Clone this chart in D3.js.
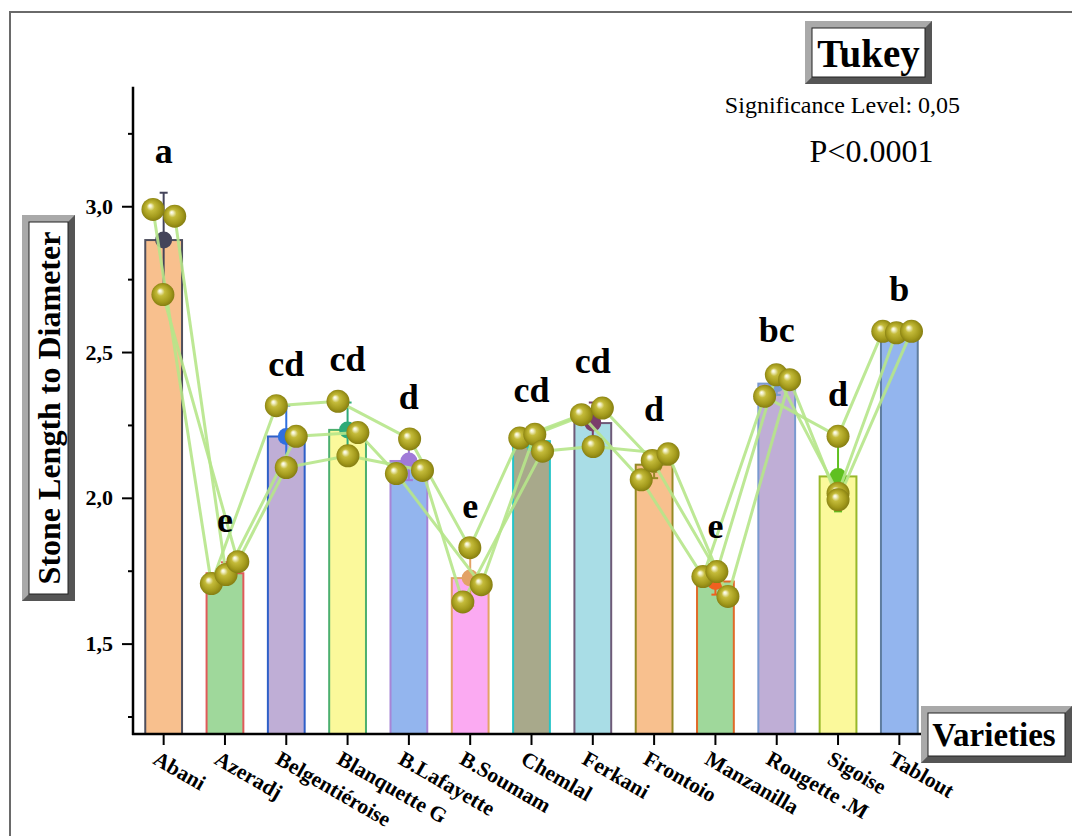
<!DOCTYPE html>
<html>
<head>
<meta charset="utf-8">
<script src="https://cdn.jsdelivr.net/npm/d3@7"></script>
<style>
  html, body { margin: 0; padding: 0; background: #fff; }
  svg { display: block; }
</style>
</head>
<body>
<svg id="chart" width="1072" height="836"></svg>
<script>
// Olive varieties and their three replicate stone length/diameter ratios
const varieties = ["Abani", "Azeradj", "Belgentiéroise", "Blanquette G", "B.Lafayette",
  "B.Soumam", "Chemlal", "Ferkani", "Frontoio", "Manzanilla", "Rougette .M", "Sigoise", "Tablout"];

const replicates = [
  [2.989, 2.966, 2.697],
  [1.706, 1.737, 1.781],
  [2.316, 2.211, 2.104],
  [2.331, 2.224, 2.144],
  [2.202, 2.083, 2.094],
  [1.829, 1.702, 1.643],
  [2.205, 2.218, 2.160],
  [2.285, 2.308, 2.176],
  [2.062, 2.128, 2.151],
  [1.730, 1.747, 1.662],
  [2.348, 2.422, 2.405],
  [2.211, 2.016, 1.993],
  [2.571, 2.566, 2.571]
];

// Tukey grouping letters (alpha = 0.05)
const groups = ["a", "e", "cd", "cd", "d", "e", "cd", "cd", "d", "e", "bc", "d", "b"];

const yMajorTicks = [1.5, 2.0, 2.5, 3.0];
const yMinorTicks = [1.25, 1.75, 2.25, 2.75, 3.25];

// horizontal spread of the replicate dots, as a fraction of bar width
const jitter = [
  [-0.29, 0.30, -0.02], [-0.37, 0.03, 0.35], [-0.27, 0.27, 0.00], [-0.26, 0.28, 0.01],
  [0.02, -0.34, 0.37], [-0.01, 0.30, -0.20], [-0.32, 0.09, 0.30], [-0.31, 0.26, 0.01],
  [-0.35, -0.05, 0.38], [-0.34, 0.04, 0.34], [-0.33, -0.01, 0.35], [0, 0, 0], [-0.45, -0.08, 0.33]
];

const fillColors = ["#f8c08e", "#9fd89b", "#bfaed6", "#fbf99b", "#93b5ee", "#fbaaf2", "#a8a98b",
  "#a9dde6", "#f8c08e", "#9fd89b", "#bfaed6", "#fbf99b", "#93b5ee"];
const edgeColors = ["#4e4e5c", "#e05a5a", "#2e5fc8", "#4caf6e", "#a785d6", "#e3a266", "#25c4c8",
  "#6e5a78", "#958a25", "#e06a28", "#7a9ad0", "#98b82a", "#5f7d9e"];
const meanColors = ["#44445a", "#e05a5a", "#2f6fe0", "#2faa78", "#a07ad8", "#e3a266", "#25c4c8",
  "#7a3f6a", "#958a25", "#f06020", "#7a9ad0", "#5fc020", "#5f7d9e"];

const serif = "'Liberation Serif', 'Times New Roman', serif";

const svg = d3.select("#chart");

const x = d3.scaleBand().domain(varieties).range([133, 930]).paddingInner(0.4).paddingOuter(0.2);
const y = d3.scaleLinear().domain([1.19, 3.41]).range([734, 86.7]);

const stats = replicates.map((vals, i) => ({
  name: varieties[i],
  mean: d3.mean(vals),
  sd: d3.deviation(vals),
  max: d3.max(vals),
  i
}));

// outer frame
svg.append("rect").attr("x", 10).attr("y", 12).attr("width", 1072).attr("height", 840)
  .attr("fill", "none").attr("stroke", "#6a6a6a").attr("stroke-width", 2);

// sphere gradient for replicate dots
const defs = svg.append("defs");
const grad = defs.append("radialGradient").attr("id", "ball")
  .attr("cx", 0.5).attr("cy", 0.5).attr("r", 0.55).attr("fx", 0.36).attr("fy", 0.33);
[[0, "#ffffff"], [0.12, "#f1efc4"], [0.32, "#c4bb3a"], [0.7, "#a39a1c"], [1, "#7c750e"]]
  .forEach(([o, c]) => grad.append("stop").attr("offset", o).attr("stop-color", c));

// bars
svg.append("g").selectAll("rect").data(stats).join("rect")
  .attr("x", d => x(d.name))
  .attr("y", d => y(d.mean))
  .attr("width", x.bandwidth())
  .attr("height", d => y(1.19) - y(d.mean))
  .attr("fill", (d, i) => fillColors[i])
  .attr("stroke", (d, i) => edgeColors[i])
  .attr("stroke-width", 2);

// error bars (mean ± SD)
const eb = svg.append("g").selectAll("g").data(stats).join("g")
  .attr("stroke", (d, i) => meanColors[i]).attr("stroke-width", 2);
eb.append("line")
  .attr("x1", d => x(d.name) + x.bandwidth() / 2).attr("x2", d => x(d.name) + x.bandwidth() / 2)
  .attr("y1", d => y(d.mean - d.sd)).attr("y2", d => y(d.mean + d.sd));
eb.append("line")
  .attr("x1", d => x(d.name) + x.bandwidth() / 2 - 4).attr("x2", d => x(d.name) + x.bandwidth() / 2 + 4)
  .attr("y1", d => y(d.mean + d.sd)).attr("y2", d => y(d.mean + d.sd));
eb.append("line")
  .attr("x1", d => x(d.name) + x.bandwidth() / 2 - 4).attr("x2", d => x(d.name) + x.bandwidth() / 2 + 4)
  .attr("y1", d => y(d.mean - d.sd)).attr("y2", d => y(d.mean - d.sd));

// mean markers
svg.append("g").selectAll("circle").data(stats).join("circle")
  .attr("cx", d => x(d.name) + x.bandwidth() / 2)
  .attr("cy", d => y(d.mean))
  .attr("r", 8.5)
  .attr("fill", (d, i) => meanColors[i]);

// replicate positions
const px = (i, k) => x(varieties[i]) + x.bandwidth() / 2 + jitter[i][k] * x.bandwidth();

// connecting lines across varieties, one per replicate
const line = d3.line();
svg.append("g").selectAll("path").data([0, 1, 2]).join("path")
  .attr("d", k => line(replicates.map((vals, i) => [px(i, k), y(vals[k])])))
  .attr("fill", "none")
  .attr("stroke", "#b6e68a")
  .attr("stroke-opacity", 0.9)
  .attr("stroke-width", 3);

// replicate dots
const dots = [];
replicates.forEach((vals, i) => vals.forEach((v, k) => dots.push({ i, k, v })));
svg.append("g").selectAll("circle").data(dots).join("circle")
  .attr("cx", d => px(d.i, d.k))
  .attr("cy", d => y(d.v))
  .attr("r", 11.5)
  .attr("fill", "url(#ball)");

// group letters
svg.append("g").selectAll("text").data(stats).join("text")
  .attr("x", d => x(d.name) + x.bandwidth() / 2)
  .attr("y", d => y(Math.max(d.max, d.mean + d.sd)) - 30)
  .attr("text-anchor", "middle")
  .attr("font-family", serif).attr("font-weight", "bold").attr("font-size", 36)
  .text((d, i) => groups[i]);

// y axis
const yAxis = svg.append("g").attr("transform", "translate(133,0)");
yAxis.call(d3.axisLeft(y).tickValues(yMajorTicks).tickSize(11).tickPadding(9)
  .tickFormat(v => d3.format(".1f")(v).replace(".", ",")));
yAxis.call(g => g.select(".domain").remove());
yAxis.selectAll(".tick line").attr("stroke", "#000").attr("stroke-width", 2);
yAxis.selectAll(".tick text").attr("font-family", serif).attr("font-weight", "bold")
  .attr("font-size", 22).attr("fill", "#000");
const yMinor = svg.append("g").attr("transform", "translate(133,0)");
yMinor.call(d3.axisLeft(y).tickValues(yMinorTicks).tickSize(5).tickFormat(""));
yMinor.call(g => g.select(".domain").remove());
yMinor.selectAll(".tick line").attr("stroke", "#000").attr("stroke-width", 2);
svg.append("line").attr("x1", 133).attr("x2", 133).attr("y1", y(3.41)).attr("y2", y(1.19) + 1)
  .attr("stroke", "#000").attr("stroke-width", 2.5);

// x axis
const xAxis = svg.append("g").attr("transform", `translate(0,${y(1.19)})`);
xAxis.call(d3.axisBottom(x).tickSize(11).tickFormat(""));
xAxis.call(g => g.select(".domain").remove());
xAxis.selectAll(".tick line").attr("stroke", "#000").attr("stroke-width", 2);
svg.append("line").attr("x1", 132).attr("x2", 930).attr("y1", y(1.19)).attr("y2", y(1.19))
  .attr("stroke", "#000").attr("stroke-width", 2.5);

svg.append("g").selectAll("text").data(varieties).join("text")
  .attr("transform", d => `translate(${x(d) + x.bandwidth() / 2 - 12},763) rotate(30)`)
  .attr("font-family", serif).attr("font-weight", "bold").attr("font-size", 21.5)
  .attr("fill", "#000")
  .text(d => d);

// bevelled title boxes
function bevelBox(bx, by, bw, bh) {
  const g = svg.append("g");
  const t = 7;
  g.append("rect").attr("x", bx).attr("y", by).attr("width", bw).attr("height", bh).attr("fill", "#7d7d7d");
  g.append("polygon").attr("points",
    [[bx, by], [bx + bw, by], [bx + bw - t, by + t], [bx + t, by + t], [bx + t, by + bh - t], [bx, by + bh]].join(" "))
    .attr("fill", "#a9a9a9");
  g.append("polygon").attr("points",
    [[bx + bw, by], [bx + bw, by + bh], [bx, by + bh], [bx + t, by + bh - t], [bx + bw - t, by + bh - t], [bx + bw - t, by + t]].join(" "))
    .attr("fill", "#555");
  g.append("rect").attr("x", bx + t).attr("y", by + t).attr("width", bw - 2 * t).attr("height", bh - 2 * t)
    .attr("fill", "#fff").attr("stroke", "#222").attr("stroke-width", 1);
  return g;
}

bevelBox(22, 215, 53, 386);
svg.append("text").attr("transform", "translate(60,408) rotate(-90)")
  .attr("text-anchor", "middle").attr("font-family", serif).attr("font-weight", "bold")
  .attr("font-size", 32).text("Stone Length to Diameter");

bevelBox(921, 706, 151, 57);
svg.append("text").attr("x", 994).attr("y", 746).attr("text-anchor", "middle")
  .attr("font-family", serif).attr("font-weight", "bold").attr("font-size", 33).text("Varieties");

bevelBox(805, 21, 127, 63);
svg.append("text").attr("x", 868.5).attr("y", 67).attr("text-anchor", "middle")
  .attr("font-family", serif).attr("font-weight", "bold").attr("font-size", 39).text("Tukey");

svg.append("text").attr("x", 842.5).attr("y", 113).attr("text-anchor", "middle")
  .attr("font-family", serif).attr("font-size", 24).text("Significance Level: 0,05");
svg.append("text").attr("x", 871.5).attr("y", 162).attr("text-anchor", "middle")
  .attr("font-family", serif).attr("font-size", 32).text("P<0.0001");
</script>
</body>
</html>
